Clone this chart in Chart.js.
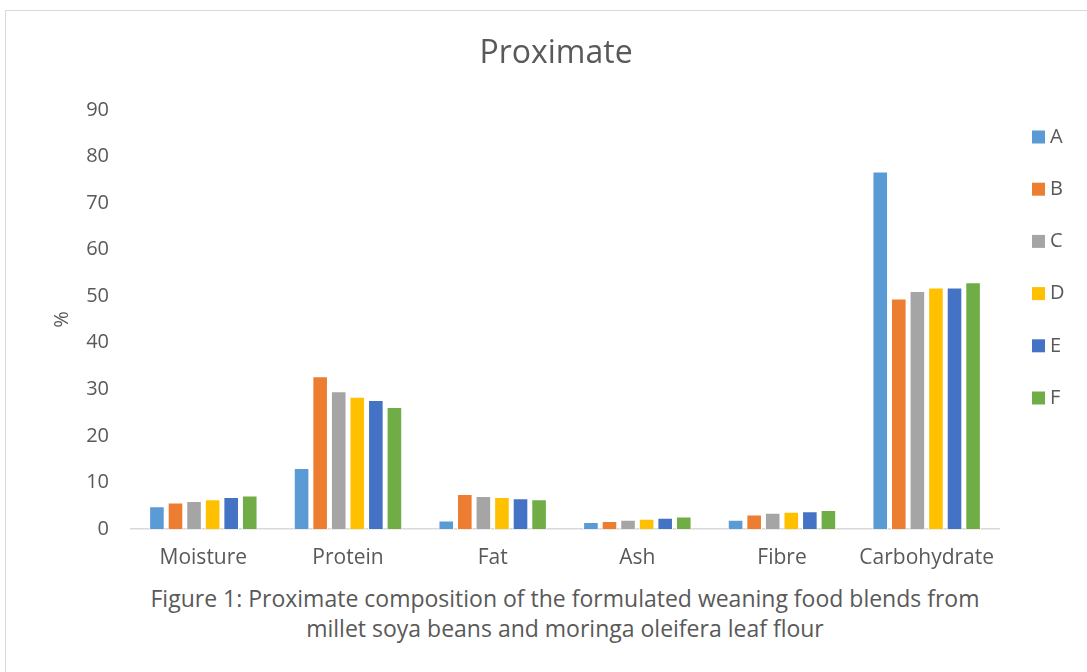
<!DOCTYPE html>
<html lang="en">
<head>
  <meta charset="UTF-8">
  <title>Proximate</title>
  <style>
    html, body { margin: 0; padding: 0; background: #fff; }
    body { width: 1087px; height: 672px; position: relative; overflow: hidden; font-family: "Open Sans", sans-serif; }
    .frame { position: absolute; left: 5px; top: 10px; width: 1200px; height: 800px; border: 1.5px solid #d9d9d9; }
    .chart-box { position: absolute; left: 0; top: 0; width: 1087px; height: 579px; }
    .caption { position: absolute; left: 0; width: 1130px; top: 583px; text-align: center; color: #595959; font-size: 23px; line-height: 30px; }
  </style>
</head>
<body>
  <div class="frame"></div>
  <div class="chart-box">
    <canvas id="graphic"></canvas>
  </div>
  <div class="caption">
    Figure 1: Proximate composition of the formulated weaning food blends from<br>
    millet soya beans and moringa oleifera leaf flour
  </div>

  <script src="https://cdn.jsdelivr.net/npm/chart.js"></script>
  <script>
    const categories = ['Moisture', 'Protein', 'Fat', 'Ash', 'Fibre', 'Carbohydrate'];
    const seriesNames = ['A', 'B', 'C', 'D', 'E', 'F'];
    const seriesColors = ['#5b9bd5', '#ed7d31', '#a5a5a5', '#ffc000', '#4472c4', '#70ad47'];
    const valuesA = [4.9, 13.1, 1.8, 1.5, 2.0, 76.8];
    const valuesB = [5.7, 32.8, 7.5, 1.7, 3.1, 49.5];
    const valuesC = [6.0, 29.6, 7.1, 2.0, 3.5, 51.1];
    const valuesD = [6.4, 28.4, 6.9, 2.2, 3.7, 51.9];
    const valuesE = [6.9, 27.7, 6.6, 2.4, 3.8, 51.9];
    const valuesF = [7.2, 26.2, 6.4, 2.7, 4.1, 53.0];
    const allValues = [valuesA, valuesB, valuesC, valuesD, valuesE, valuesF];

    const grey = '#595959';

    // title and legend drawn by hand so they sit where the original has them
    const sideLegend = {
      id: 'sideLegend',
      afterDraw(chart) {
        const ctx = chart.ctx;
        ctx.save();
        ctx.fillStyle = grey;
        ctx.font = '32px "Open Sans"';
        ctx.textAlign = 'center';
        ctx.textBaseline = 'middle';
        ctx.fillText('Proximate', 556, 54);

        const x = chart.chartArea.right + 33;
        ctx.font = '20px "Open Sans"';
        ctx.textAlign = 'left';
        chart.data.datasets.forEach((ds, i) => {
          const y = 137 + i * 52.2;
          ctx.fillStyle = ds.backgroundColor;
          ctx.fillRect(x, y - 6.5, 13, 13);
          ctx.fillStyle = grey;
          ctx.fillText(ds.label, x + 18, y);
        });
        ctx.restore();
      }
    };

    document.addEventListener("DOMContentLoaded", () => {
      const lienzo = document.getElementById("graphic");
      new Chart(lienzo, {
        type: 'bar',
        data: {
          labels: categories,
          datasets: seriesNames.map((name, i) => ({
            label: name,
            data: allValues[i],
            backgroundColor: seriesColors[i],
            borderColor: '#ffffff',
            borderWidth: 1,
            barPercentage: 0.84,
            categoryPercentage: 0.77
          }))
        },
        options: {
          responsive: true,
          maintainAspectRatio: false,
          animation: false,
          layout: { padding: { left: 0, right: 88, top: 110, bottom: 0 } },
          plugins: {
            legend: { display: false },
            tooltip: { enabled: false },
            title: { display: false }
          },
          scales: {
            x: {
              grid: { display: false, drawTicks: false },
              border: { color: '#d9d9d9', width: 1.5 },
              ticks: { color: grey, font: { family: 'Open Sans', size: 21 }, padding: 16, maxRotation: 0 },
              afterFit(scale) { scale.height = 50; }
            },
            y: {
              min: 0,
              max: 90,
              grid: { display: false, drawTicks: false },
              border: { display: false },
              ticks: { stepSize: 10, color: grey, font: { family: 'Open Sans', size: 20 }, padding: 22 },
              title: {
                display: true,
                text: '%',
                color: grey,
                font: { family: 'Open Sans', size: 20 },
                padding: { top: 50, bottom: 0 }
              },
              afterFit(scale) { scale.width = 131; }
            }
          }
        },
        plugins: [sideLegend]
      });
    });
  </script>
</body>
</html>
